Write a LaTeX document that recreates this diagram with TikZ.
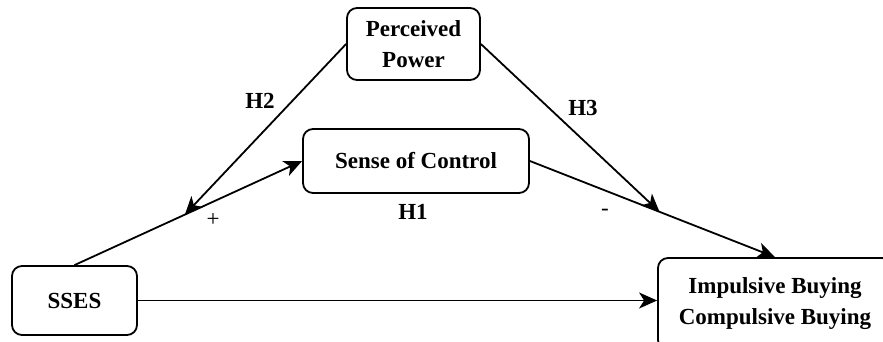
\documentclass[tikz,border=0pt]{standalone}
\usepackage{fontspec}
\setmainfont{Liberation Serif}
\usetikzlibrary{arrows.meta}

\begin{document}
\begin{tikzpicture}[
  x = 1pt, y = -1pt,
  font = \fontsize{23}{29}\selectfont,
  construct/.style = {
    rectangle,
    rounded corners = 10pt,
    draw = black,
    line width = 1.8pt,
    align = center,
    inner sep = 0pt,
    font = \fontsize{23}{31}\selectfont\bfseries
  },
  arrow/.style = {
    -{Stealth[length=18pt, width=16pt, inset=5pt]},
    draw = black,
    line width = 1.8pt
  },
  hyp/.style = {
    font = \fontsize{23}{29}\selectfont\bfseries
  },
  sign/.style = {
    font = \fontsize{23}{29}\selectfont
  }
]
\useasboundingbox (0,0) rectangle (883,341);

% Nodes
\node[construct, minimum width=133pt, minimum height=72pt] (power) at (413.5,44) {Perceived\\Power};
\node[construct, minimum width=226pt, minimum height=64pt] (control) at (416,161) {Sense of Control};
\node[construct, minimum width=125pt, minimum height=69pt] (sses) at (74.5,300.5) {SSES};
\node[construct, minimum width=234pt, minimum height=92pt] (buying) at (775,304) {Impulsive Buying\\Compulsive Buying};

% Arrows
\draw[arrow] (sses.north) -- coordinate[pos=0.485] (h2tip) (control.west);
\draw[arrow] (control.east) -- coordinate[pos=0.529] (h3tip) (buying.north);
\draw[arrow] (sses.east) -- (sses.east -| buying.west);
\draw[arrow] (power.west) -- (h2tip);
\draw[arrow] (power.east) -- (h3tip);

% Labels
\node[hyp] (h1) at (413,212) {H1};
\node[hyp] (h2) at (260,101) {H2};
\node[hyp] (h3) at (583,108) {H3};
\node[sign] (plus) at (213,220) {+};
\node[sign] (minus) at (605,212) {-};

\end{tikzpicture}
\end{document}
